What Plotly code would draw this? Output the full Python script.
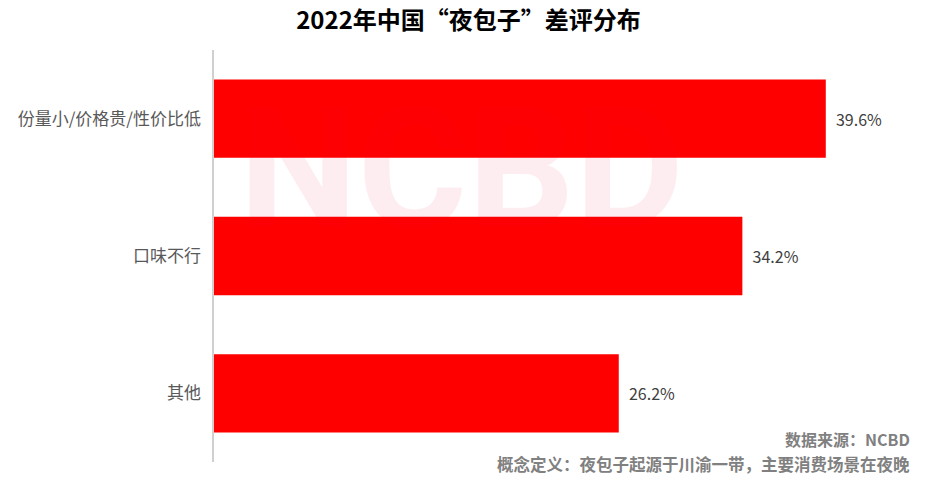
import plotly.graph_objects as go

categories = ["份量小/价格贵/性价比低", "口味不行", "其他"]
values = [39.6, 34.2, 26.2]
value_labels = ["39.6%", "34.2%", "26.2%"]
title_text = "2022年中国“夜包子”差评分布"
source_text = "数据来源：NCBD"
note_text = "概念定义：夜包子起源于川渝一带，主要消费场景在夜晚"
watermark = "NCBD"

fig = go.Figure()
fig.add_trace(go.Bar(
    y=categories, x=values, orientation="h",
    marker=dict(color="#ff0000", line=dict(width=0)),
    width=0.57,
    text=["\u00a0\u00a0" + t for t in value_labels], textposition="outside",
    textfont=dict(family="Noto Sans CJK SC", size=16, color="#404040"),
    cliponaxis=False,
))

fig.update_layout(
    width=937, height=482,
    margin=dict(l=214, r=25, t=50, b=20),
    paper_bgcolor="white", plot_bgcolor="white",
    showlegend=False,
    title=dict(text="<b>" + title_text + "</b>", x=0.5, xanchor="center", y=0.958, yanchor="middle",
               font=dict(family="Noto Sans CJK SC", size=24, color="#000000")),
    xaxis=dict(range=[0, 45.18], visible=False, fixedrange=True),
    yaxis=dict(autorange=False, range=[2.5, -0.5], type="category",
               showline=True, linecolor="#d0d0d0", linewidth=2,
               showgrid=False, ticks="", ticklen=0, fixedrange=True,
               tickfont=dict(family="Noto Sans CJK SC", size=17, color="#595959"),
               ticksuffix="  "),
    annotations=[
        dict(text="<b>" + watermark + "</b>", xref="paper", yref="paper", x=0.355, y=0.71,
             xanchor="center", yanchor="middle", showarrow=False,
             font=dict(family="Roboto", size=168, color="rgba(228,0,55,0.075)")),
        dict(text="<b>" + source_text + "</b>", xref="paper", yref="paper", x=1.0, y=0.056,
             xanchor="right", yanchor="middle", showarrow=False,
             font=dict(family="Noto Sans CJK SC", size=16, color="#808080")),
        dict(text="<b>" + note_text + "</b>", xref="paper", yref="paper", x=1.0, y=-0.006,
             xanchor="right", yanchor="middle", showarrow=False,
             font=dict(family="Noto Sans CJK SC", size=16.5, color="#808080")),
    ],
)

fig.write_html("out.html", config={"displayModeBar": False},
               post_script="document.body.style.margin='0';")
